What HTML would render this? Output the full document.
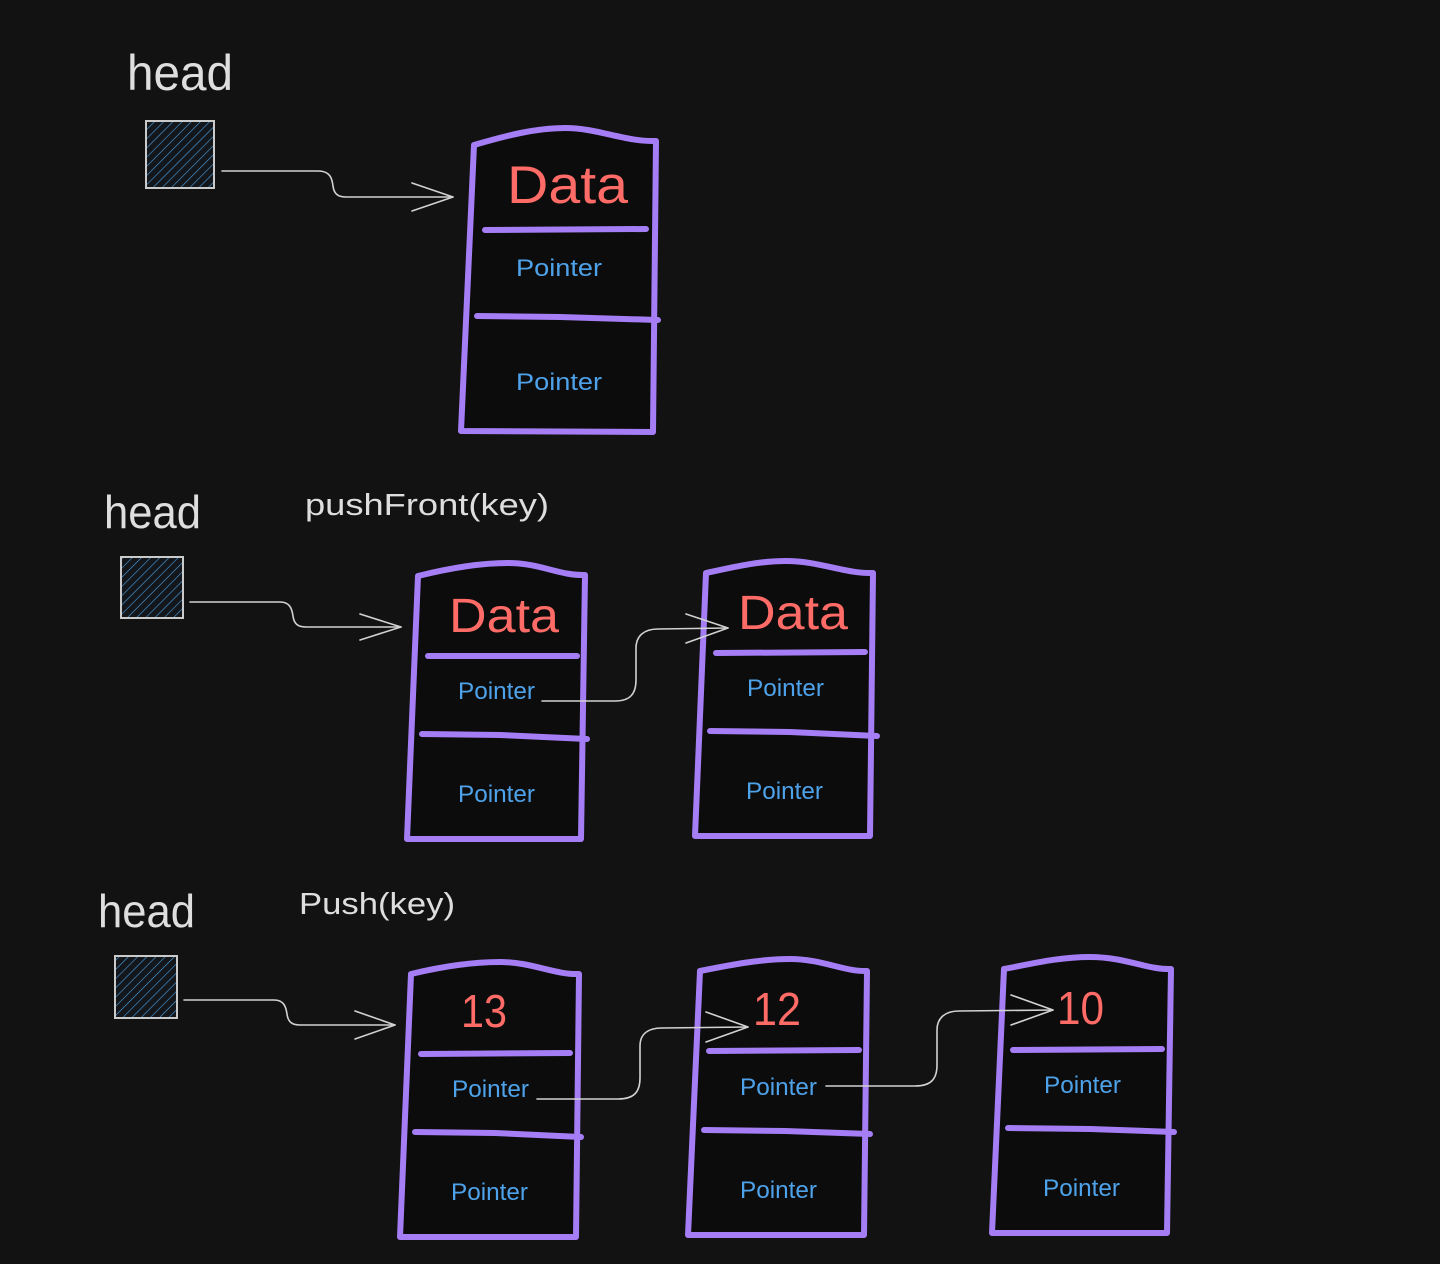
<!DOCTYPE html>
<html>
<head>
<meta charset="utf-8">
<style>
  html,body{margin:0;padding:0;background:#121212;}
  svg{display:block;}
  .lbl{font-family:"Liberation Sans",sans-serif;fill:#dedede;}
  .data{font-family:"Liberation Sans",sans-serif;fill:#ff6b66;}
  .ptr{font-family:"Liberation Sans",sans-serif;fill:#4ea2ea;font-size:24px;}
  .box{fill:#0c0c0c;stroke:#a57ef6;stroke-width:6;stroke-linejoin:round;stroke-linecap:round;}
  .div{stroke:#a57ef6;stroke-width:6;stroke-linecap:round;fill:none;}
  .con{stroke:#d2d2d2;stroke-width:1.6;fill:none;stroke-linecap:round;stroke-linejoin:round;}
  .sq{fill:url(#hatch);stroke:#cacaca;stroke-width:2;}
</style>
</head>
<body>
<svg width="1440" height="1264" viewBox="0 0 1440 1264" xmlns="http://www.w3.org/2000/svg">
  <defs>
    <pattern id="hatch" patternUnits="userSpaceOnUse" width="6.5" height="6.5" patternTransform="rotate(45)">
      <rect width="6.5" height="6.5" fill="#13171c"/>
      <line x1="0" y1="0" x2="0" y2="6.5" stroke="#4b9ee0" stroke-width="1.2"/>
    </pattern>
  </defs>
  <rect width="1440" height="1264" fill="#121212"/>

  <!-- ===== Section 1 ===== -->
  <text class="lbl" x="127" y="90" font-size="50" textLength="106" lengthAdjust="spacingAndGlyphs">head</text>
  <rect class="sq" x="146" y="121" width="68" height="67"/>
  <path class="con" d="M222,171 L318,171 C330,171 332,178 333,186 C334,194 338,197 346,197 L453,197"/>
  <path class="con" d="M412,183 L453,197 L412,211"/>

  <path class="box" d="M474,145 C505,136 535,128 565,128 C598,128 625,142 656,141 L653,432 L461,431 Z"/>
  <line class="div" x1="485" y1="230" x2="646" y2="229"/>
  <path class="div" d="M477,316 L560,317 L658,320"/>
  <text class="data" x="507" y="203" font-size="53" textLength="121" lengthAdjust="spacingAndGlyphs">Data</text>
  <text class="ptr" x="516" y="276" font-size="26" textLength="86" lengthAdjust="spacingAndGlyphs">Pointer</text>
  <text class="ptr" x="516" y="390" font-size="26" textLength="86" lengthAdjust="spacingAndGlyphs">Pointer</text>

  <!-- ===== Section 2 ===== -->
  <text class="lbl" x="104" y="528" font-size="46" textLength="97" lengthAdjust="spacingAndGlyphs">head</text>
  <text class="lbl" x="305" y="515" font-size="31" textLength="244" lengthAdjust="spacingAndGlyphs">pushFront(key)</text>
  <rect class="sq" x="121" y="557" width="62" height="61"/>
  <path class="con" d="M190,602 L280,602 C290,602 292,609 293,616 C294,624 298,627 306,627 L401,627"/>
  <path class="con" d="M360,614 L401,627 L360,640"/>

  <path class="box" d="M418,576 C450,568 480,563 508,563 C540,563 560,576 585,575 L581,839 L407,839 Z"/>
  <line class="div" x1="428" y1="656" x2="577" y2="656"/>
  <path class="div" d="M422,734 L500,735 L587,739"/>
  <text class="data" x="449" y="632" font-size="48" textLength="110" lengthAdjust="spacingAndGlyphs">Data</text>
  <text class="ptr" x="458" y="699" textLength="77" lengthAdjust="spacingAndGlyphs">Pointer</text>
  <text class="ptr" x="458" y="802" textLength="77" lengthAdjust="spacingAndGlyphs">Pointer</text>

  <path class="box" d="M706,573 C738,566 760,561 786,561 C820,561 845,574 873,573 L870,836 L695,836 Z"/>
  <line class="div" x1="716" y1="653" x2="865" y2="652"/>
  <path class="div" d="M710,731 L790,732 L877,736"/>
  <text class="data" x="738" y="629" font-size="48" textLength="110" lengthAdjust="spacingAndGlyphs">Data</text>
  <text class="ptr" x="747" y="696" textLength="77" lengthAdjust="spacingAndGlyphs">Pointer</text>
  <text class="ptr" x="746" y="799" textLength="77" lengthAdjust="spacingAndGlyphs">Pointer</text>

  <path class="con" d="M542,701 L615,701 C630,701 636,694 636,680 L636,648 C636,636 644,629 658,629 L728,628"/>
  <path class="con" d="M686,614 L728,628 L686,643"/>

  <!-- ===== Section 3 ===== -->
  <text class="lbl" x="98" y="927" font-size="46" textLength="97" lengthAdjust="spacingAndGlyphs">head</text>
  <text class="lbl" x="299" y="914" font-size="31" textLength="156" lengthAdjust="spacingAndGlyphs">Push(key)</text>
  <rect class="sq" x="115" y="956" width="62" height="62"/>
  <path class="con" d="M184,1000 L274,1000 C284,1000 286,1007 287,1014 C288,1022 292,1025 300,1025 L395,1025"/>
  <path class="con" d="M355,1011 L395,1025 L355,1039"/>

  <!-- box 13 -->
  <path class="box" d="M411,974 C440,967 470,962 500,962 C532,962 555,975 579,974 L576,1237 L400,1237 Z"/>
  <line class="div" x1="421" y1="1054" x2="570" y2="1053"/>
  <path class="div" d="M415,1132 L495,1133 L581,1137"/>
  <text class="data" x="461" y="1027" font-size="46" textLength="46" lengthAdjust="spacingAndGlyphs">13</text>
  <text class="ptr" x="452" y="1097" textLength="77" lengthAdjust="spacingAndGlyphs">Pointer</text>
  <text class="ptr" x="451" y="1200" textLength="77" lengthAdjust="spacingAndGlyphs">Pointer</text>

  <!-- box 12 -->
  <path class="box" d="M700,971 C730,965 760,959 790,959 C822,959 845,972 867,971 L864,1235 L688,1235 Z"/>
  <line class="div" x1="709" y1="1051" x2="859" y2="1050"/>
  <path class="div" d="M704,1130 L785,1131 L870,1134"/>
  <text class="data" x="753" y="1025" font-size="46" textLength="48" lengthAdjust="spacingAndGlyphs">12</text>
  <text class="ptr" x="740" y="1095" textLength="77" lengthAdjust="spacingAndGlyphs">Pointer</text>
  <text class="ptr" x="740" y="1198" textLength="77" lengthAdjust="spacingAndGlyphs">Pointer</text>

  <!-- box 10 -->
  <path class="box" d="M1004,969 C1035,963 1060,957 1090,957 C1125,957 1148,970 1171,969 L1167,1233 L992,1233 Z"/>
  <line class="div" x1="1013" y1="1050" x2="1162" y2="1049"/>
  <path class="div" d="M1008,1128 L1090,1129 L1174,1132"/>
  <text class="data" x="1057" y="1024" font-size="46" textLength="47" lengthAdjust="spacingAndGlyphs">10</text>
  <text class="ptr" x="1044" y="1093" textLength="77" lengthAdjust="spacingAndGlyphs">Pointer</text>
  <text class="ptr" x="1043" y="1196" textLength="77" lengthAdjust="spacingAndGlyphs">Pointer</text>

  <!-- connectors 13->12, 12->10 -->
  <path class="con" d="M537,1099 L618,1099 C634,1099 640,1092 640,1078 L640,1046 C640,1034 648,1028 662,1028 L748,1027"/>
  <path class="con" d="M706,1012 L748,1027 L706,1042"/>
  <path class="con" d="M826,1086 L915,1086 C931,1086 937,1079 937,1065 L937,1030 C937,1018 945,1011 959,1011 L1053,1010"/>
  <path class="con" d="M1011,995 L1053,1010 L1011,1025"/>
</svg>
</body>
</html>
